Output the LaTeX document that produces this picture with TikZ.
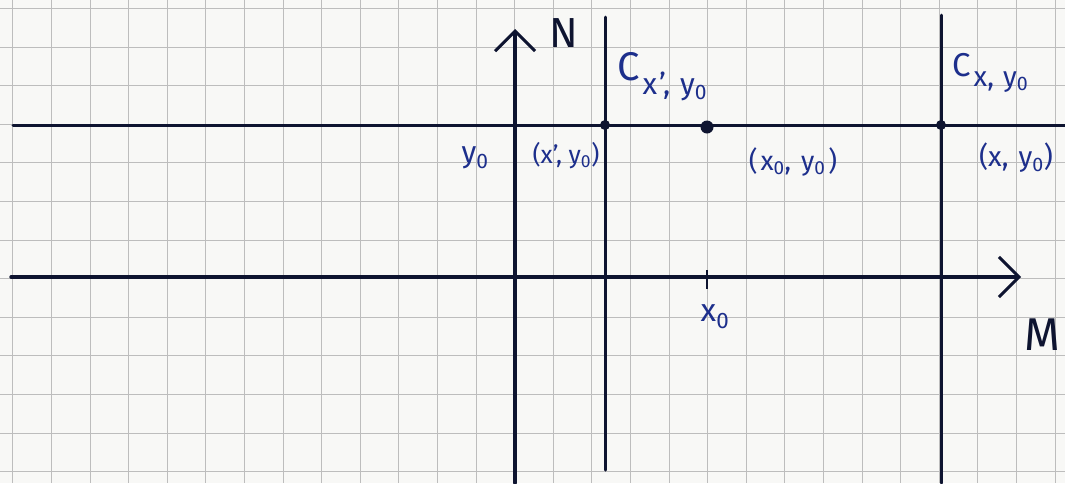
\documentclass[tikz,border=0pt]{standalone}
\usepackage{fontspec}
\setmainfont{Fira Sans}
\usetikzlibrary{arrows.meta}
\definecolor{paper}{HTML}{F8F8F6}
\definecolor{gridc}{HTML}{BDBDBD}
\definecolor{ink}{HTML}{0E1430}
\definecolor{pen}{HTML}{1D2F8C}
\tikzset{
  gridline/.style={draw=gridc, line width=0.8pt},
  axis/.style={draw=ink, line width=3.4pt, line cap=round},
  level/.style={draw=ink, line width=3pt, line cap=round},
  arrowtip/.style={-{Straight Barb[length=20pt,width=40pt,line width=3pt]}},
  lbl/.style={text=pen, inner sep=0pt, font=\fontsize{26}{26}\selectfont},
  biglbl/.style={text=ink, inner sep=0pt, font=\fontsize{42}{42}\selectfont},
  ptsmall/.style={fill=ink, circle, inner sep=0pt, minimum size=10pt},
  ptbig/.style={fill=ink, circle, inner sep=0pt, minimum size=13pt},
}
\newcommand{\sub}[1]{\textsubscript{#1}}
\begin{document}
\begin{tikzpicture}[x=1pt,y=-1pt]
\useasboundingbox (0,0) rectangle (1065,483);
\fill[paper] (0,0) rectangle (1065,483);
% graph paper
\foreach \i in {0,...,27} \draw[gridline] ({12.7+38.6*\i},0) -- ++(0,483);
\foreach \j in {0,...,12} \draw[gridline] (0,{8.3+38.6*\j}) -- ++(1065,0);
% coordinates
\coordinate (Mstart) at (11,277);
\coordinate (Mend) at (1021,277);
\coordinate (Nstart) at (515,483);
\coordinate (Nend) at (515,29);
\coordinate (Lstart) at (13,125);
\coordinate (Lend) at (1065,125);
\coordinate (Vatop) at (605,17);
\coordinate (Vabot) at (605,470);
\coordinate (Vbtop) at (941,15);
\coordinate (Vbbot) at (941,483);
\coordinate (Ttop) at (707,270);
\coordinate (Tbot) at (707,289);
% axes
\draw[axis, arrowtip] (Mstart) -- (Mend);
\draw[axis, arrowtip] (Nstart) -- (Nend);
% level line and verticals
\draw[level] (Lstart) -- (Lend);
\draw[level] (Vatop) -- (Vabot);
\draw[level] (Vbtop) -- (Vbbot);
\draw[draw=ink, line width=2.4pt] (Ttop) -- (Tbot);
% points
\node[ptsmall] (P1) at (605,125) {};
\node[ptbig] (P0) at (707,127) {};
\node[ptsmall] (P2) at (941,125) {};
% labels
\node[biglbl] (labN) at (564,33) {N};
\node[biglbl, font=\fontsize{46}{46}\selectfont, anchor=west] (labM) at (1024,335) {M};
\node[lbl, anchor=base west] (labC1) at (617,80) {\fontsize{40}{40}\selectfont C\kern3pt\fontsize{30}{30}\selectfont\raisebox{-14pt}{x\kern2pt',\kern10pt y\sub{0}}};
\node[lbl, anchor=base west] (labC2) at (952,76) {\fontsize{33}{33}\selectfont C\kern3pt\fontsize{28}{28}\selectfont\raisebox{-10pt}{x,\kern9pt y\sub{0}}};
\node[lbl, font=\fontsize{30}{30}\selectfont] (laby) at (475,158) {y\sub{0}};
\node[lbl, font=\fontsize{25}{25}\selectfont] (labP1) at (566,156) {(x', y\sub{0})};
\node[lbl, font=\fontsize{27}{27}\selectfont] (labP0) at (793,162) {(\kern3pt x\sub{0},\kern10pt y\sub{0}\kern3pt)};
\node[lbl, font=\fontsize{28}{28}\selectfont] (labP2) at (1016,158) {(x,\kern10pt y\sub{0})};
\node[lbl, font=\fontsize{32}{32}\selectfont] (labx) at (715,317) {x\sub{0}};
\end{tikzpicture}
\end{document}
